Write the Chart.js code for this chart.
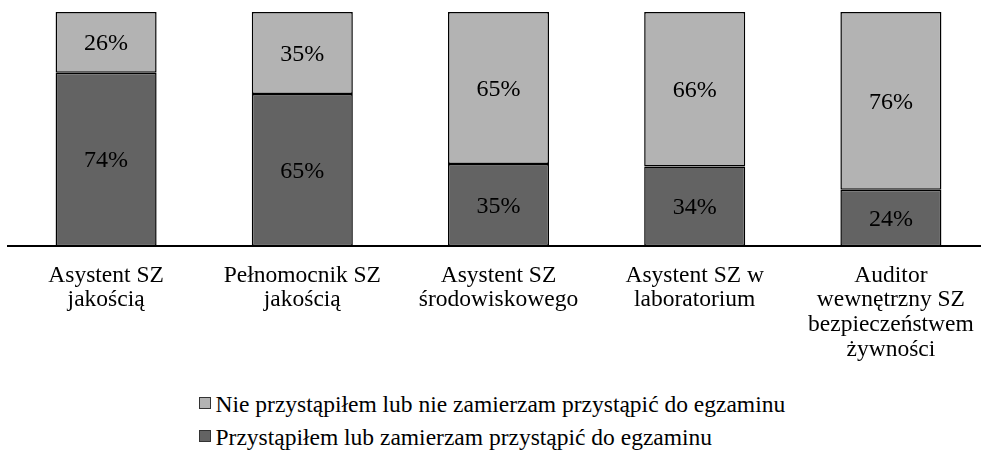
<!DOCTYPE html>
<html>
<head>
<meta charset="utf-8">
<script src="https://cdn.jsdelivr.net/npm/chart.js@4"></script>
<style>
  html, body { margin:0; padding:0; background:#fff; overflow:hidden; }
  #wrap { position:absolute; left:0; top:0; width:1000px; height:380px; }
  .row { position:absolute; left:199px; height:24px; font-family:'Liberation Serif', serif; font-size:23.5px; line-height:23.5px; color:#000; white-space:nowrap; }
  .box { position:absolute; left:0; top:4px; width:12px; height:12px; box-sizing:border-box; border:1px solid #333; }
  .txt { position:absolute; left:16.5px; top:0; }
</style>
</head>
<body>
<div id="wrap"><canvas id="c" width="1000" height="380"></canvas></div>
<div id="legend"></div>
<script>
const categories = [
  ["Asystent SZ", "jakością"],
  ["Pełnomocnik SZ", "jakością"],
  ["Asystent SZ", "środowiskowego"],
  ["Asystent SZ w", "laboratorium"],
  ["Auditor", "wewnętrzny SZ", "bezpieczeństwem", "żywności"]
];
const seriesNames = [
  "Nie przystąpiłem lub nie zamierzam przystąpić do egzaminu",
  "Przystąpiłem lub zamierzam przystąpić do egzaminu"
];
const passed = [74, 65, 35, 34, 24];
const notPassed = [26, 35, 65, 66, 76];
const colors = { dark: "#636363", light: "#b3b3b3" };
const FONT = "'Liberation Serif', serif";

const valueLabels = {
  id: "valueLabels",
  afterDatasetsDraw(chart) {
    const ctx = chart.ctx;
    ctx.save();
    ctx.font = "24px " + FONT;
    ctx.fillStyle = "#000";
    ctx.textAlign = "center";
    ctx.textBaseline = "middle";
    chart.data.datasets.forEach((ds, di) => {
      const meta = chart.getDatasetMeta(di);
      meta.data.forEach((bar, i) => {
        const p = bar.getProps(["x", "y", "base"], true);
        ctx.fillText(ds.data[i] + "%", p.x, (p.y + p.base) / 2 + 1.5);
      });
    });
    ctx.restore();
  }
};

Chart.defaults.font.family = FONT;

new Chart(document.getElementById("c"), {
  type: "bar",
  data: {
    labels: categories,
    datasets: [
      { label: seriesNames[1], data: passed, backgroundColor: colors.dark, borderColor: "#000", borderWidth: 1.5, borderSkipped: false },
      { label: seriesNames[0], data: notPassed, backgroundColor: colors.light, borderColor: "#000", borderWidth: 1.5, borderSkipped: false }
    ]
  },
  options: {
    responsive: false,
    animation: false,
    layout: { padding: { left: 8, right: 11, top: 12, bottom: 0 } },
    datasets: { bar: { categoryPercentage: 1, barPercentage: 0.515 } },
    plugins: { legend: { display: false }, tooltip: { enabled: false } },
    scales: {
      x: {
        stacked: true,
        grid: { display: false, drawTicks: false },
        border: { display: true, color: "#000", width: 2 },
        ticks: { color: "#000", font: { family: FONT, size: 23.5, lineHeight: 1.05 }, padding: 17, maxRotation: 0, autoSkip: false },
        afterFit(scale) { scale.height = 380 - 246; }
      },
      y: { stacked: true, display: false, min: 0, max: 100 }
    }
  },
  plugins: [valueLabels]
});

const legend = document.getElementById("legend");
const rowTops = [393, 426];
[[seriesNames[0], colors.light], [seriesNames[1], colors.dark]].forEach(([name, col], k) => {
  const d = document.createElement("div");
  d.className = "row";
  d.style.top = rowTops[k] + "px";
  const b = document.createElement("span");
  b.className = "box";
  b.style.background = col;
  const t = document.createElement("span");
  t.className = "txt";
  t.textContent = name;
  d.appendChild(b); d.appendChild(t);
  legend.appendChild(d);
});
</script>
</body>
</html>
